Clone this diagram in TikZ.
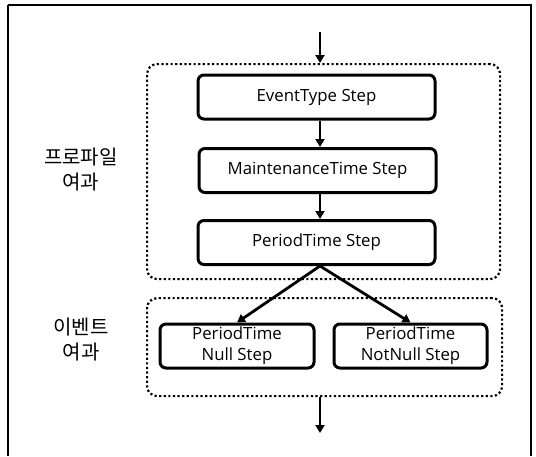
\documentclass[tikz,border=0pt]{standalone}
\usepackage{fontspec}
\setmainfont{Open Sans}
\newfontfamily\kor{Noto Sans CJK KR}
\usetikzlibrary{arrows.meta}
\begin{document}
\begin{tikzpicture}[x=1pt,y=-1pt,
  stepbox/.style={draw,line width=3pt,rounded corners=6pt,align=center,font=\fontsize{16.8}{21}\selectfont,inner sep=0pt},
  grp/.style={draw,line width=2.2pt,dash pattern=on 2.2pt off 2.4pt,rounded corners=10pt},
  arr/.style={line width=2.8pt,-{Triangle[length=8pt,width=9pt]}},
  lbl/.style={align=center,font=\kor\fontsize{20}{25}\selectfont}]
\useasboundingbox (0,0) rectangle (536,456);
\draw[line width=1.6pt] (8,5) -- (8,456) (8,5) -- (531,5) -- (531,456);
\node[grp,minimum width=353pt,minimum height=215pt,anchor=north west] (g1) at (146,63) {};
\node[grp,minimum width=355pt,minimum height=98pt,anchor=north west] (g2) at (146,297) {};
\node[stepbox,minimum width=237pt,minimum height=44pt] (s1) at (316.5,97) {EventType Step};
\node[stepbox,minimum width=237pt,minimum height=44pt] (s2) at (317.5,170.5) {MaintenanceTime Step};
\node[stepbox,minimum width=237pt,minimum height=44pt] (s3) at (316.5,242.5) {PeriodTime Step};
\node[stepbox,minimum width=154pt,minimum height=44pt] (n1) at (237,346) {PeriodTime\\Null Step};
\node[stepbox,minimum width=153pt,minimum height=44pt] (n2) at (410.5,346) {PeriodTime\\NotNull Step};
\node[lbl] (l1) at (81,170) {프로파일\\여과};
\node[lbl] (l2) at (81,340) {이벤트\\여과};
\coordinate (top) at (320,32);
\coordinate (bot) at (320,433);
\draw[arr] (top) -- (320,63);
\draw[arr] (s1.south -| 320,0) -- (s2.north -| 320,0);
\draw[arr] (s2.south -| 320,0) -- (s3.north -| 320,0);
\draw[arr] (s3.south -| 320,0) -- (n1.north);
\draw[arr] (s3.south -| 320,0) -- (n2.north);
\draw[arr] (g2.south -| 320,0) -- (bot);
\end{tikzpicture}
\end{document}
